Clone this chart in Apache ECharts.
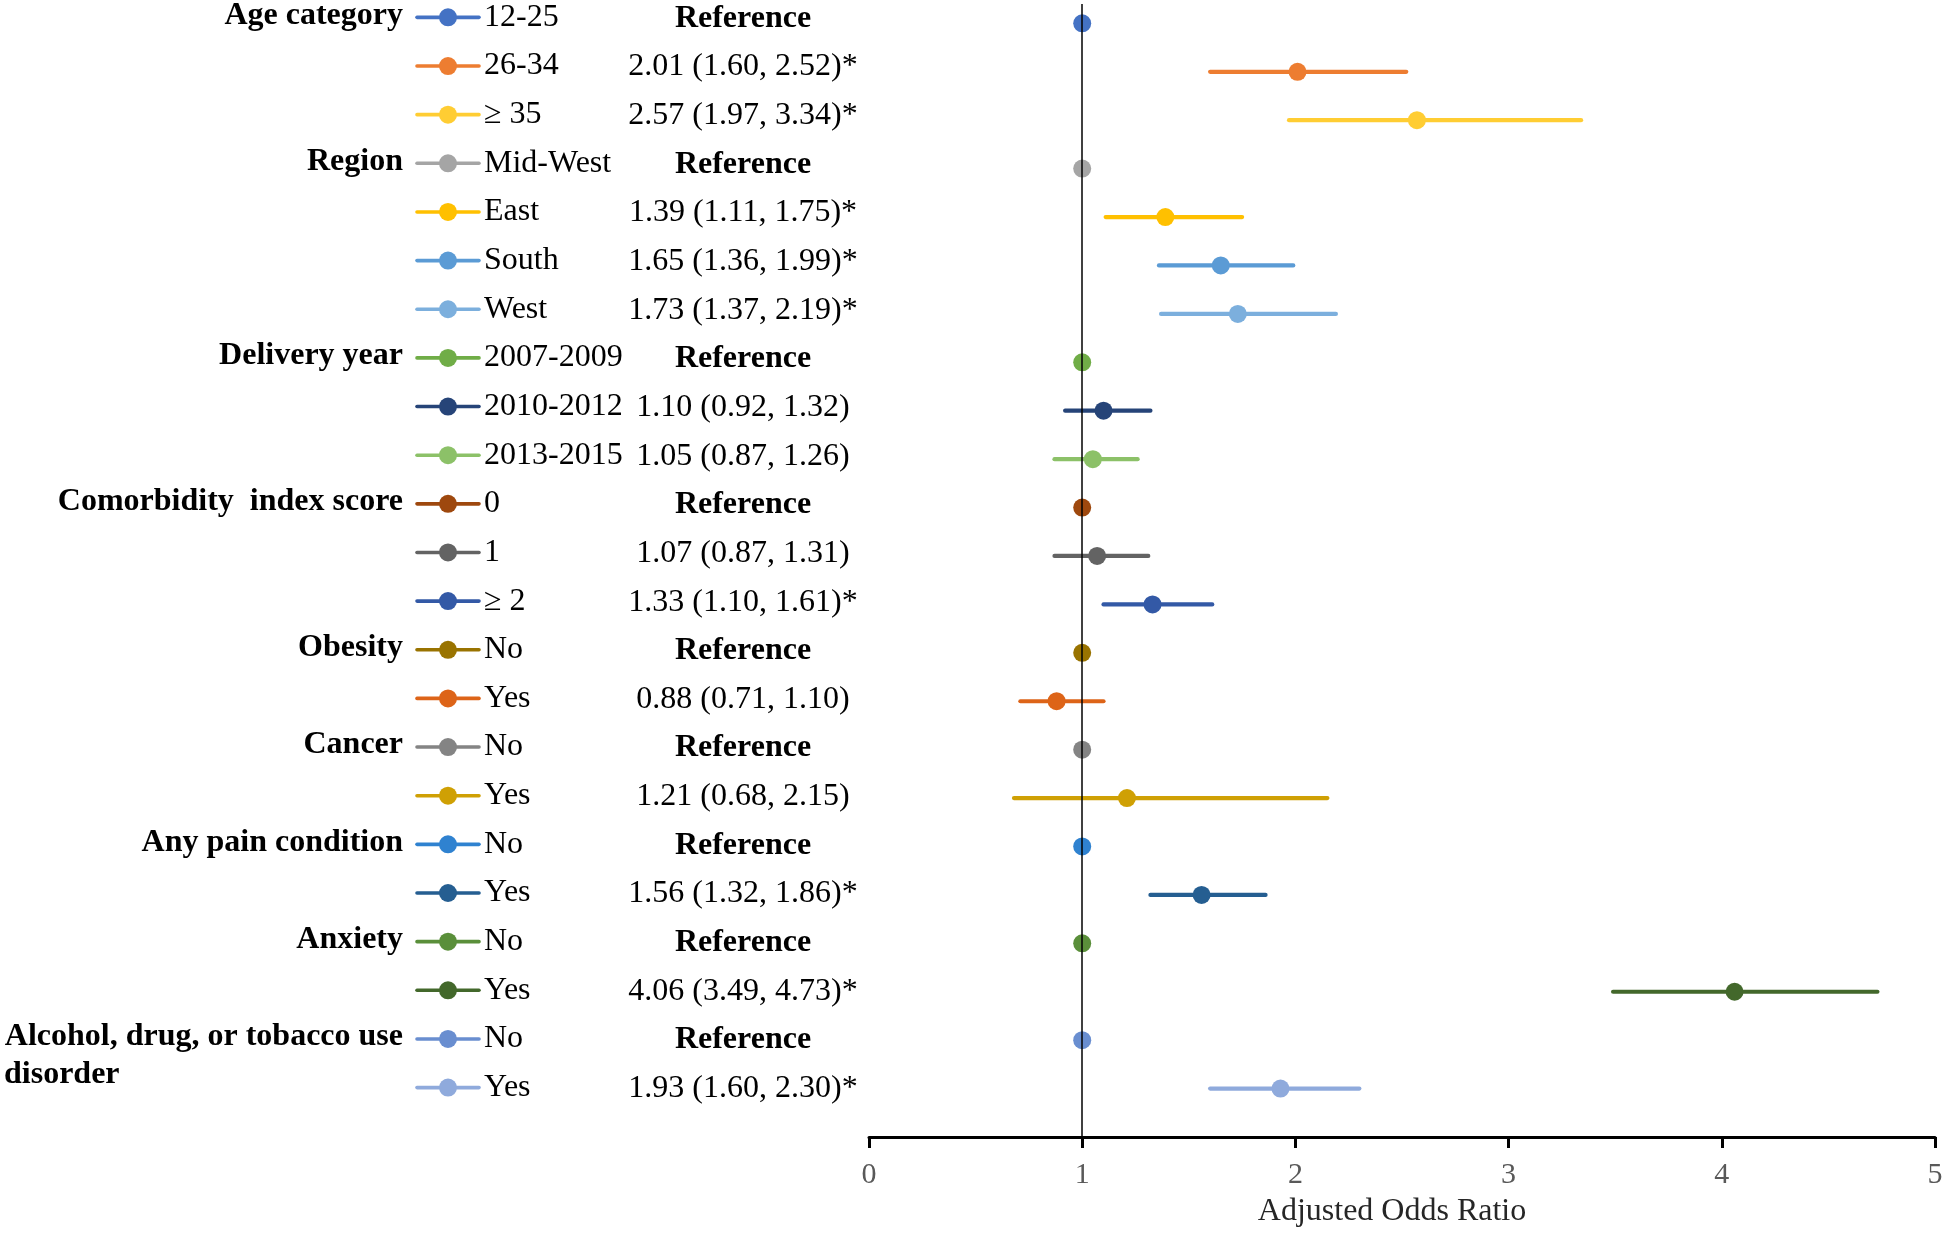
<!DOCTYPE html>
<html>
<head>
<meta charset="utf-8">
<script src="https://cdn.jsdelivr.net/npm/echarts@6/dist/echarts.min.js"></script>
<style>
html,body{margin:0;padding:0;background:#fff}
#chart{width:1946px;height:1233px}
</style>
</head>
<body>
<div id="chart"></div>
<script>
// ---------------- data ----------------
const groupLabels = ['Age category','','','Region','','','','Delivery year','','','Comorbidity  index score','','','Obesity','','Cancer','','Any pain condition','','Anxiety','','Alcohol, drug, or tobacco use\ndisorder',''];
const categories = ['12-25','26-34','\u2265 35','Mid-West','East','South','West','2007-2009','2010-2012','2013-2015','0','1','\u2265 2','No','Yes','No','Yes','No','Yes','No','Yes','No','Yes'];
const oddsRatios = [1,2.01,2.57,1,1.39,1.65,1.73,1,1.10,1.05,1,1.07,1.33,1,0.88,1,1.21,1,1.56,1,4.06,1,1.93];
const ciLower = [null,1.60,1.97,null,1.11,1.36,1.37,null,0.92,0.87,null,0.87,1.10,null,0.71,null,0.68,null,1.32,null,3.49,null,1.60];
const ciUpper = [null,2.52,3.34,null,1.75,1.99,2.19,null,1.32,1.26,null,1.31,1.61,null,1.10,null,2.15,null,1.86,null,4.73,null,2.30];
const resultTexts = ['Reference','2.01 (1.60, 2.52)*','2.57 (1.97, 3.34)*','Reference','1.39 (1.11, 1.75)*','1.65 (1.36, 1.99)*','1.73 (1.37, 2.19)*','Reference','1.10 (0.92, 1.32)','1.05 (0.87, 1.26)','Reference','1.07 (0.87, 1.31)','1.33 (1.10, 1.61)*','Reference','0.88 (0.71, 1.10)','Reference','1.21 (0.68, 2.15)','Reference','1.56 (1.32, 1.86)*','Reference','4.06 (3.49, 4.73)*','Reference','1.93 (1.60, 2.30)*'];
const xTickValues = [0,1,2,3,4,5];
const xAxisTitle = 'Adjusted Odds Ratio';

// ---------------- styles ----------------
const palette = ['#4472C4','#ED7D31','#FFCD33','#A5A5A5','#FFC000','#5B9BD5','#7CAFDD','#70AD47','#264478','#8CC168','#9E480E','#636363','#3359A6','#997300','#DD6418','#848484','#CFA004','#2F82D0','#255E91','#5A8F3A','#43682B','#698ED0','#8FAADC'];
const SERIF = '"Liberation Serif","Times New Roman",serif';
const nRows = categories.length;
const rowY = i => nRows - i;          // row position on the hidden y axis
// the left-hand table rows sit slightly above the plotted rows near the top
const shiftFor = i => -6 + 5 * i / (nRows - 1);

const chart = echarts.init(document.getElementById('chart'), null, {renderer:'canvas'});

function renderAnnot(params, api){
  const i = params.dataIndex;
  const y = api.coord([0, api.value(1)])[1] + shiftFor(i);
  const color = palette[i];
  const kids = [
    {type:'line', shape:{x1:417,y1:y,x2:479,y2:y}, style:{stroke:color, lineWidth:3.6, lineCap:'round'}},
    {type:'circle', shape:{cx:448, cy:y, r:9}, style:{fill:color}},
    {type:'text', x:484, y:y, style:{text:categories[i], font:'32px ' + SERIF, fill:'#000', align:'left', verticalAlign:'middle'}},
    {type:'text', x:743, y:y+1, style:{text:resultTexts[i], font:(resultTexts[i]==='Reference'?'bold ':'') + '32px ' + SERIF, fill:'#000', align:'center', verticalAlign:'middle'}}
  ];
  if (groupLabels[i]) {
    const lines = groupLabels[i].split('\n');
    kids.push({type:'text', x:403, y:y-2, style:{text:lines[0], font:'bold 32px ' + SERIF, fill:'#000', align:'right', verticalAlign:'middle'}});
    for (let k = 1; k < lines.length; k++) {
      kids.push({type:'text', x:4, y:y-2+38*k, style:{text:lines[k], font:'bold 32px ' + SERIF, fill:'#000', align:'left', verticalAlign:'middle'}});
    }
  }
  return {type:'group', children:kids};
}

function renderCI(params, api){
  const i = api.value(3);
  const a = api.coord([api.value(0), api.value(2)]);
  const b = api.coord([api.value(1), api.value(2)]);
  return {type:'line', shape:{x1:a[0],y1:a[1],x2:b[0],y2:b[1]}, style:{stroke:palette[i], lineWidth:4.2, lineCap:'round'}};
}

const ciData = [];
ciLower.forEach((lo,i)=>{ if (lo !== null) ciData.push([lo, ciUpper[i], rowY(i), i]); });

const option = {
  animation:false,
  backgroundColor:'#fff',
  grid:{left:869, right:11, top:4, bottom:95, containLabel:false},
  xAxis:{
    type:'value', min:xTickValues[0], max:xTickValues[xTickValues.length-1], interval:1,
    axisLine:{show:true, onZero:false, lineStyle:{color:'#000', width:3}},
    axisTick:{show:true, length:11, lineStyle:{color:'#000', width:3}},
    axisLabel:{color:'#595959', fontSize:30, fontFamily:SERIF, margin:23},
    splitLine:{show:false},
    name:xAxisTitle, nameLocation:'middle', nameGap:59,
    nameTextStyle:{color:'#262626', fontSize:32, fontFamily:SERIF, padding:[0,20,0,0]}
  },
  yAxis:{type:'value', min:0, max:23.4, show:false, splitLine:{show:false}},
  series:[
    {
      type:'custom', name:'refline', z:1, silent:true,
      data:[], renderItem:()=>null,
      markLine:{silent:true, symbol:'none', label:{show:false}, lineStyle:{color:'#000', width:1.5, type:'solid'}, data:[{xAxis:1}]}
    },
    {
      type:'custom', name:'ci', z:2, silent:true,
      encode:{x:[0,1], y:2},
      data:ciData, renderItem:renderCI
    },
    {
      type:'scatter', name:'or', z:3, symbol:'circle', symbolSize:18, silent:true,
      data:oddsRatios.map((v,i)=>({value:[v, rowY(i)], itemStyle:{color:palette[i], opacity:1}}))
    },
    {
      type:'custom', name:'annot', z:4, silent:true, clip:false,
      encode:{x:0, y:1},
      data:categories.map((c,i)=>[0, rowY(i)]), renderItem:renderAnnot
    }
  ]
};
chart.setOption(option);
</script>
</body>
</html>
